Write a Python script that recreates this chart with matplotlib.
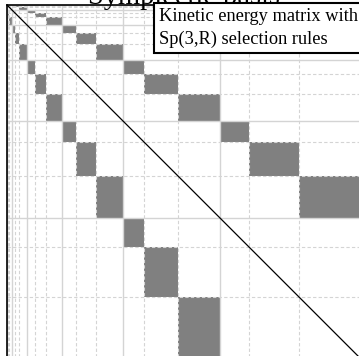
import numpy as np
import matplotlib

matplotlib.use("Agg")
import matplotlib.pyplot as plt
from matplotlib.colors import ListedColormap

# states in each of the three sub-bands of every shell, shells ordered by N
sub_band_sizes = [
	[1, 1, 3],
	[3, 4, 8],
	[8, 11, 16],
	[14, 20, 27],
	[21, 34, 42],
	[29, 50, 62],
]

title_text = "Symplectic basis"
box_text = "Kinetic energy matrix with\nSp(3,R) selection rules"


def _band_edges(sizes):
	"""Return (start, stop) per (shell, sub-band) and the shell/sub-band edge lists."""
	edges = {}
	shell_edges = [0]
	sub_edges = []
	pos = 0
	for s, shell in enumerate(sizes):
		for p, n in enumerate(shell):
			edges[(s, p)] = (pos, pos + n)
			pos += n
			if p < len(shell) - 1:
				sub_edges.append(pos)
		shell_edges.append(pos)
	return edges, shell_edges, sub_edges, pos


edges, shell_edges, sub_edges, dim = _band_edges(sub_band_sizes)

# T couples shell N to N+2 only, and only between matching sub-bands
mat = np.zeros((dim, dim))
for s in range(len(sub_band_sizes) - 1):
	for p in range(3):
		r0, r1 = edges[(s, p)]
		c0, c1 = edges[(s + 1, p)]
		mat[r0:r1, c0:c1] = 1.0
		mat[c0:c1, r0:r1] = 1.0

plt.rcParams["font.family"] = ["Liberation Serif", "DejaVu Serif"]

fig = plt.figure(figsize=(3.59, 3.56), dpi=100)
ax = fig.add_axes([7 / 359, -3 / 356, 354 / 359, 354 / 356])

ax.imshow(
	np.ma.masked_equal(mat, 0), cmap=ListedColormap(["#808080"]),
	interpolation="nearest", extent=(0, dim, dim, 0), aspect="auto", zorder=0,
)
diag = np.arange(dim + 1)
ax.plot(diag, diag, color="black", linewidth=0.9, zorder=3)

ax.set_xlim(0, dim)
ax.set_ylim(dim, 0)
ax.set_xticks(shell_edges)
ax.set_yticks(shell_edges)
ax.set_xticks(sub_edges, minor=True)
ax.set_yticks(sub_edges, minor=True)
ax.tick_params(which="both", length=0, labelbottom=False, labelleft=False)
ax.grid(which="major", color="#d4d4d4", linewidth=1.0, linestyle="-")
ax.grid(which="minor", color="#d4d4d4", linewidth=0.8, linestyle=(0, (3, 2)))
for side in ("left", "top", "right", "bottom"):
	ax.spines[side].set_linewidth(1.2)

ax.set_title(title_text, fontsize=20.5, y=1.0, pad=0.7)
ax.text(
	0.4294, 0.992, box_text, transform=ax.transAxes, ha="left", va="top",
	fontsize=13.2, linespacing=1.45, zorder=5,
	bbox=dict(boxstyle="square,pad=0.25", facecolor="white", edgecolor="black", linewidth=1.5),
)

fig.savefig("out.png", dpi=100)
